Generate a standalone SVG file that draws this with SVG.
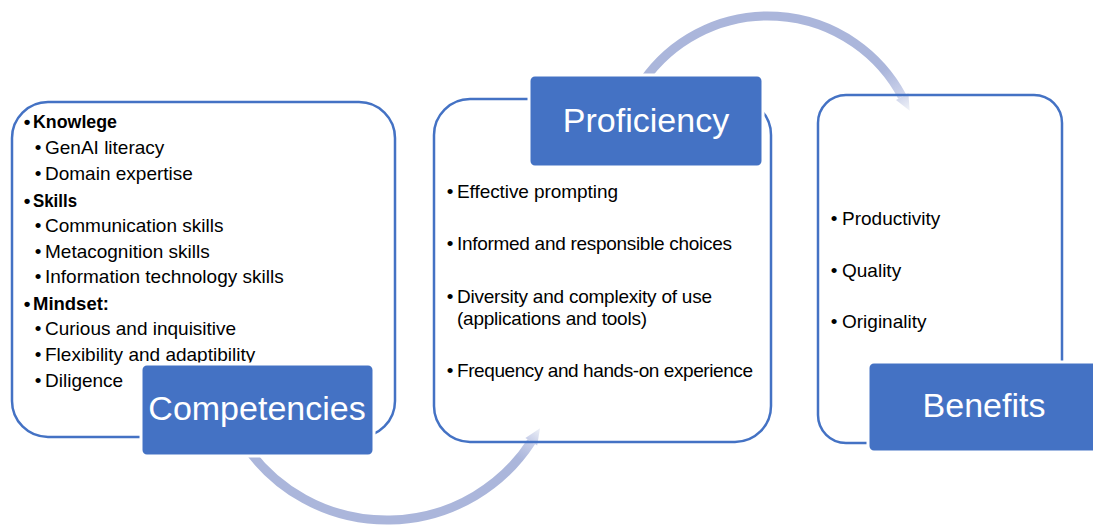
<svg xmlns="http://www.w3.org/2000/svg" width="1093" height="527" viewBox="0 0 1093 527">
  <style>
    .panel { fill: none; stroke: #4472C4; stroke-width: 2.5; }
    .tag { fill: #4472C4; stroke: #FFFFFF; stroke-width: 3; }
    .tag-text { font-family: "Liberation Sans", Arial, sans-serif; font-size: 34px; fill: #FFFFFF; text-anchor: middle; }
    .item { font-family: "Liberation Sans", Arial, sans-serif; font-size: 19px; fill: #000000; }
    .head { font-weight: bold; }
    .flow { fill: none; stroke-width: 9; }
  </style>
  <defs>
    <linearGradient id="fadeTop" gradientUnits="userSpaceOnUse" x1="884" y1="70" x2="910" y2="111">
      <stop offset="0" stop-color="#ABB6DB"/>
      <stop offset="0.55" stop-color="#C8CFE9"/>
      <stop offset="1" stop-color="#F2F4F8"/>
    </linearGradient>
    <linearGradient id="fadeBottom" gradientUnits="userSpaceOnUse" x1="518" y1="458" x2="541" y2="427">
      <stop offset="0" stop-color="#ABB6DB"/>
      <stop offset="0.55" stop-color="#C8CFE9"/>
      <stop offset="1" stop-color="#F2F4F8"/>
    </linearGradient>
  </defs>

  <rect width="1093" height="527" fill="#FFFFFF"/>

  <!-- curved arrows linking the three stages -->
  <g id="connectors">
    <path class="flow" stroke="url(#fadeBottom)" d="M 246.1 446.7 A 172 172 0 0 0 531.3 441.7"/>
    <polygon fill="url(#fadeBottom)" points="537.2,445.5 540.0,428.3 525.4,437.9"/>
    <path class="flow" stroke="url(#fadeTop)" d="M 643.5 80.8 A 152 152 0 0 1 902.2 96.6"/>
    <polygon fill="url(#fadeTop)" points="908.4,93.3 909.7,110.7 896.0,99.9"/>
  </g>

  <!-- Competencies -->
  <g id="competencies">
    <rect class="panel" x="12" y="102" width="383" height="335" rx="36" ry="36"/>
    <text class="item head"><tspan x="27" y="128" text-anchor="middle">•</tspan><tspan x="33" y="128" textLength="84" lengthAdjust="spacingAndGlyphs">Knowlege</tspan></text>
    <text class="item"><tspan x="38" y="154" text-anchor="middle">•</tspan><tspan x="45" y="154">GenAI literacy</tspan></text>
    <text class="item"><tspan x="38" y="180" text-anchor="middle">•</tspan><tspan x="45" y="180">Domain expertise</tspan></text>
    <text class="item head"><tspan x="27" y="207" text-anchor="middle">•</tspan><tspan x="33" y="207" textLength="44" lengthAdjust="spacingAndGlyphs">Skills</tspan></text>
    <text class="item"><tspan x="38" y="232" text-anchor="middle">•</tspan><tspan x="45" y="232">Communication skills</tspan></text>
    <text class="item"><tspan x="38" y="258" text-anchor="middle">•</tspan><tspan x="45" y="258">Metacognition skills</tspan></text>
    <text class="item"><tspan x="38" y="283" text-anchor="middle">•</tspan><tspan x="45" y="283">Information technology skills</tspan></text>
    <text class="item head"><tspan x="27" y="310" text-anchor="middle">•</tspan><tspan x="33" y="310" textLength="76" lengthAdjust="spacingAndGlyphs">Mindset:</tspan></text>
    <text class="item"><tspan x="38" y="335" text-anchor="middle">•</tspan><tspan x="45" y="335">Curious and inquisitive</tspan></text>
    <text class="item"><tspan x="38" y="361" text-anchor="middle">•</tspan><tspan x="45" y="361">Flexibility and adaptibility</tspan></text>
    <text class="item"><tspan x="38" y="387" text-anchor="middle">•</tspan><tspan x="45" y="387">Diligence</tspan></text>
    <rect class="tag" x="141" y="364" width="233" height="92" rx="6" ry="6"/>
    <text class="tag-text" x="257" y="420">Competencies</text>
  </g>

  <!-- Proficiency -->
  <g id="proficiency">
    <rect class="panel" x="434" y="99" width="337" height="343" rx="36" ry="36"/>
    <text class="item"><tspan x="450" y="198" text-anchor="middle">•</tspan><tspan x="457" y="198" textLength="161">Effective prompting</tspan></text>
    <text class="item"><tspan x="450" y="250" text-anchor="middle">•</tspan><tspan x="457" y="250" textLength="275">Informed and responsible choices</tspan></text>
    <text class="item"><tspan x="450" y="303" text-anchor="middle">•</tspan><tspan x="457" y="303" textLength="255">Diversity and complexity of use</tspan><tspan x="457" y="325" textLength="190">(applications and tools)</tspan></text>
    <text class="item"><tspan x="450" y="377" text-anchor="middle">•</tspan><tspan x="457" y="377" textLength="296">Frequency and hands-on experience</tspan></text>
    <rect class="tag" x="529" y="75" width="234" height="92" rx="6" ry="6"/>
    <text class="tag-text" x="646" y="132">Proficiency</text>
  </g>

  <!-- Benefits -->
  <g id="benefits">
    <rect class="panel" x="818" y="95" width="244" height="348" rx="28" ry="28"/>
    <text class="item"><tspan x="834" y="225" text-anchor="middle">•</tspan><tspan x="842" y="225">Productivity</tspan></text>
    <text class="item"><tspan x="834" y="277" text-anchor="middle">•</tspan><tspan x="842" y="277">Quality</tspan></text>
    <text class="item"><tspan x="834" y="328" text-anchor="middle">•</tspan><tspan x="842" y="328">Originality</tspan></text>
    <rect class="tag" x="868" y="362" width="232" height="90" rx="6" ry="6"/>
    <text class="tag-text" x="984" y="417">Benefits</text>
  </g>
</svg>
